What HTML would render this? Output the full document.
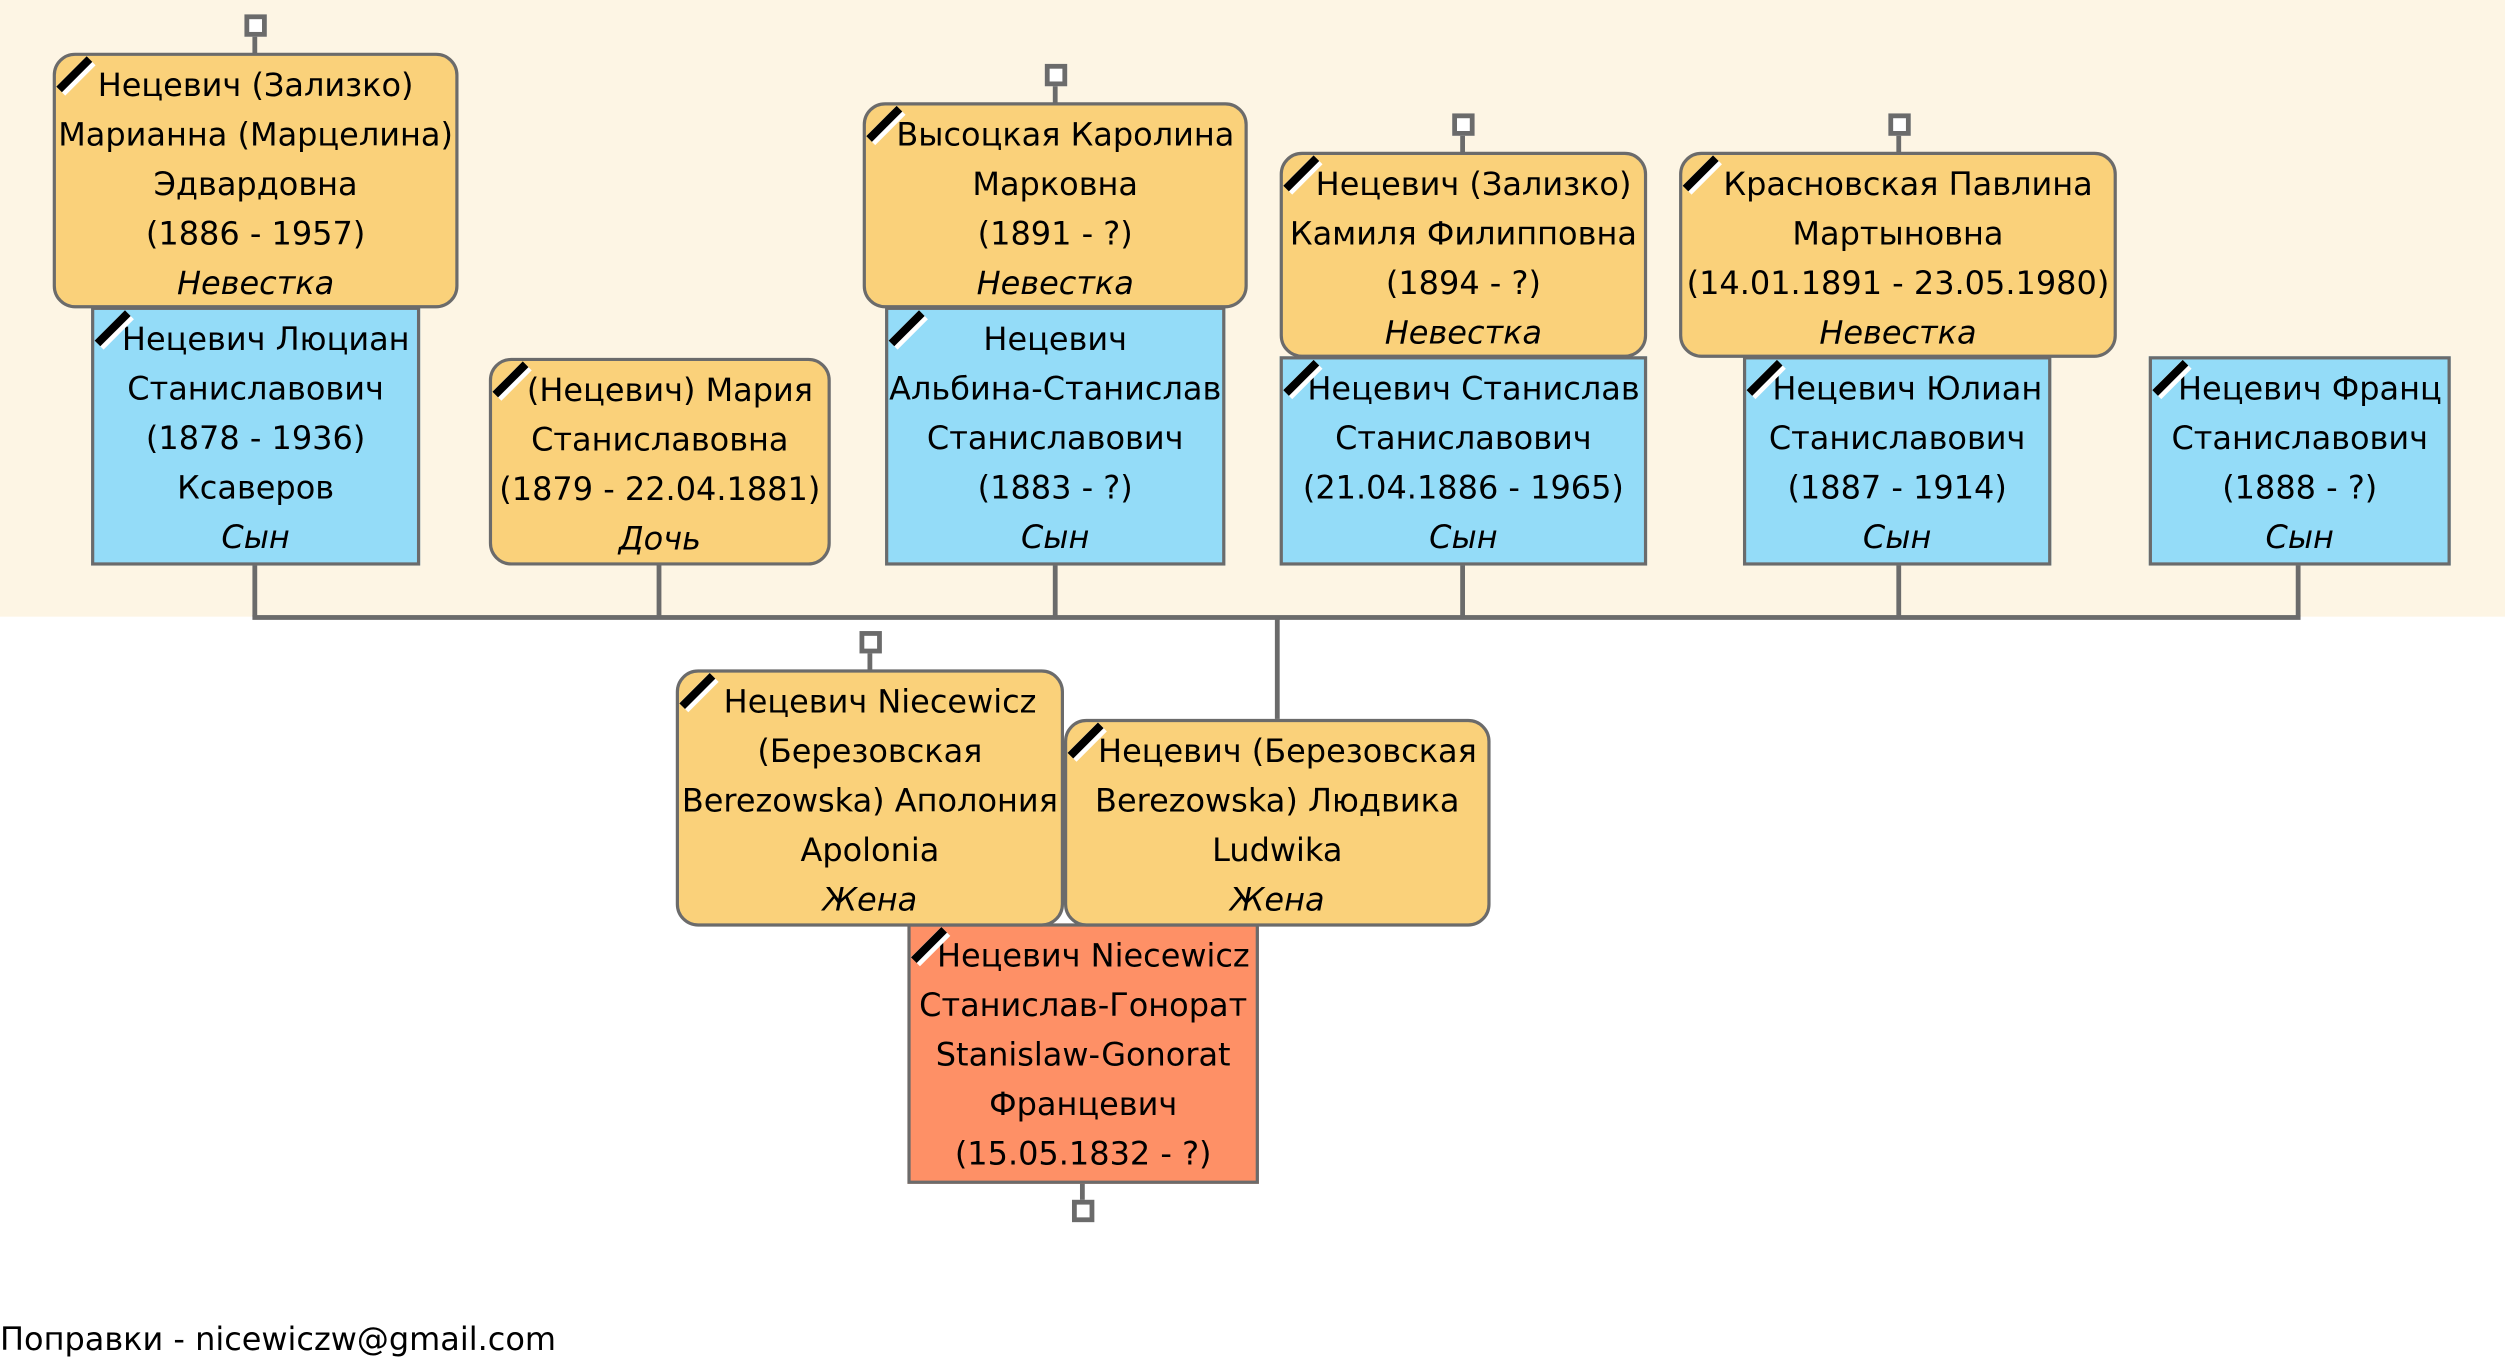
<!DOCTYPE html>
<html><head><meta charset="utf-8">
<style>
body{margin:0;width:2505px;height:1360px;overflow:hidden;background:#fff;}
#w{position:absolute;left:0;top:0;width:1568px;height:852px;transform:scale(1.5976);transform-origin:0 0;font-family:"DejaVu Sans","Liberation Sans",sans-serif;}
.b{position:absolute;box-sizing:border-box;border:2px solid #6b6b6b;text-align:center;font-size:20px;line-height:31px;padding-top:3px;color:#000;white-space:nowrap;overflow:visible;}
.o{background:#fad17a;border-radius:14px;}
.u{background:#94dcf8;}
.r{background:#fe9066;}
.b i{font-style:italic;}
.rb{position:absolute;left:0;top:0;width:30px;height:30px;}
.h{position:absolute;background:#6b6b6b;}
.sq{position:absolute;width:8px;height:8px;border:3px solid #6b6b6b;background:#fff;}
</style></head><body>
<div id="w">
<div style="position:absolute;left:0;top:0;width:1568px;height:386px;background:#fdf5e4"></div>
<div class="h" style="left:158px;top:385px;width:1282px;height:3px"></div>
<div class="h" style="left:158px;top:353px;width:3px;height:33px"></div>
<div class="h" style="left:411px;top:353px;width:3px;height:33px"></div>
<div class="h" style="left:659px;top:353px;width:3px;height:33px"></div>
<div class="h" style="left:914px;top:353px;width:3px;height:33px"></div>
<div class="h" style="left:1187px;top:353px;width:3px;height:33px"></div>
<div class="h" style="left:1437px;top:353px;width:3px;height:33px"></div>
<div class="h" style="left:798px;top:386px;width:3px;height:64px"></div>
<div class="h" style="left:158px;top:20px;width:3px;height:14px"></div><div class="sq" style="left:153px;top:9px"></div>
<div class="h" style="left:659px;top:51px;width:3px;height:14px"></div><div class="sq" style="left:654px;top:40px"></div>
<div class="h" style="left:914px;top:82px;width:3px;height:14px"></div><div class="sq" style="left:909px;top:71px"></div>
<div class="h" style="left:1187px;top:82px;width:3px;height:14px"></div><div class="sq" style="left:1182px;top:71px"></div>
<div class="h" style="left:543px;top:406px;width:3px;height:14px"></div><div class="sq" style="left:538px;top:395px"></div>
<div class="h" style="left:676px;top:739px;width:3px;height:14px"></div><div class="sq" style="left:671px;top:751px"></div>

<div class="b u" style="left:57px;top:192px;width:206px;height:162px">&nbsp;&nbsp;Нецевич Люциан<br>Станиславович<br>(1878 - 1936)<br>Ксаверов<br><i>Сын</i><svg class="rb"><line x1="3" y1="22" x2="22" y2="3" stroke="#fff" stroke-width="8"/><line x1="2" y1="21" x2="21" y2="2" stroke="#000" stroke-width="5"/></svg></div>
<div class="b o" style="left:33px;top:33px;width:254px;height:160px">Нецевич (Зализко)<br>Марианна (Марцелина)<br>Эдвардовна<br>(1886 - 1957)<br><i>Невестка</i><svg class="rb"><line x1="3" y1="22" x2="22" y2="3" stroke="#fff" stroke-width="8"/><line x1="2" y1="21" x2="21" y2="2" stroke="#000" stroke-width="5"/></svg></div>
<div class="b o" style="left:306px;top:224px;width:214px;height:130px">&nbsp;&nbsp;(Нецевич) Мария<br>Станиславовна<br>(1879 - 22.04.1881)<br><i>Дочь</i><svg class="rb"><line x1="3" y1="22" x2="22" y2="3" stroke="#fff" stroke-width="8"/><line x1="2" y1="21" x2="21" y2="2" stroke="#000" stroke-width="5"/></svg></div>
<div class="b u" style="left:554px;top:192px;width:213px;height:162px">Нецевич<br>Альбина-Станислав<br>Станиславович<br>(1883 - ?)<br><i>Сын</i><svg class="rb"><line x1="3" y1="22" x2="22" y2="3" stroke="#fff" stroke-width="8"/><line x1="2" y1="21" x2="21" y2="2" stroke="#000" stroke-width="5"/></svg></div>
<div class="b o" style="left:540px;top:64px;width:241px;height:129px">&nbsp;&nbsp;Высоцкая Каролина<br>Марковна<br>(1891 - ?)<br><i>Невестка</i><svg class="rb"><line x1="3" y1="22" x2="22" y2="3" stroke="#fff" stroke-width="8"/><line x1="2" y1="21" x2="21" y2="2" stroke="#000" stroke-width="5"/></svg></div>
<div class="b u" style="left:801px;top:223px;width:230px;height:131px">&nbsp;&nbsp;Нецевич Станислав<br>Станиславович<br>(21.04.1886 - 1965)<br><i>Сын</i><svg class="rb"><line x1="3" y1="22" x2="22" y2="3" stroke="#fff" stroke-width="8"/><line x1="2" y1="21" x2="21" y2="2" stroke="#000" stroke-width="5"/></svg></div>
<div class="b o" style="left:801px;top:95px;width:230px;height:129px">&nbsp;&nbsp;Нецевич (Зализко)<br>Камиля Филипповна<br>(1894 - ?)<br><i>Невестка</i><svg class="rb"><line x1="3" y1="22" x2="22" y2="3" stroke="#fff" stroke-width="8"/><line x1="2" y1="21" x2="21" y2="2" stroke="#000" stroke-width="5"/></svg></div>
<div class="b u" style="left:1091px;top:223px;width:193px;height:131px">&nbsp;&nbsp;Нецевич Юлиан<br>Станиславович<br>(1887 - 1914)<br><i>Сын</i><svg class="rb"><line x1="3" y1="22" x2="22" y2="3" stroke="#fff" stroke-width="8"/><line x1="2" y1="21" x2="21" y2="2" stroke="#000" stroke-width="5"/></svg></div>
<div class="b o" style="left:1051px;top:95px;width:274px;height:129px">&nbsp;&nbsp;Красновская Павлина<br>Мартыновна<br>(14.01.1891 - 23.05.1980)<br><i>Невестка</i><svg class="rb"><line x1="3" y1="22" x2="22" y2="3" stroke="#fff" stroke-width="8"/><line x1="2" y1="21" x2="21" y2="2" stroke="#000" stroke-width="5"/></svg></div>
<div class="b u" style="left:1345px;top:223px;width:189px;height:131px">&nbsp;&nbsp;Нецевич Франц<br>Станиславович<br>(1888 - ?)<br><i>Сын</i><svg class="rb"><line x1="3" y1="22" x2="22" y2="3" stroke="#fff" stroke-width="8"/><line x1="2" y1="21" x2="21" y2="2" stroke="#000" stroke-width="5"/></svg></div>

<div class="b r" style="left:568px;top:578px;width:220px;height:163px">&nbsp;&nbsp;Нецевич Niecewicz<br>Станислав-Гонорат<br>Stanislaw-Gonorat<br>Францевич<br>(15.05.1832 - ?)<svg class="rb"><line x1="3" y1="22" x2="22" y2="3" stroke="#fff" stroke-width="8"/><line x1="2" y1="21" x2="21" y2="2" stroke="#000" stroke-width="5"/></svg></div>
<div class="b o" style="left:423px;top:419px;width:243px;height:161px">&nbsp;&nbsp;Нецевич Niecewicz<br>(Березовская<br>Berezowska) Аполония<br>Apolonia<br><i>Жена</i><svg class="rb"><line x1="3" y1="22" x2="22" y2="3" stroke="#fff" stroke-width="8"/><line x1="2" y1="21" x2="21" y2="2" stroke="#000" stroke-width="5"/></svg></div>
<div class="b o" style="left:666px;top:450px;width:267px;height:130px">&nbsp;&nbsp;Нецевич (Березовская<br>Berezowska) Людвика<br>Ludwika<br><i>Жена</i><svg class="rb"><line x1="3" y1="22" x2="22" y2="3" stroke="#fff" stroke-width="8"/><line x1="2" y1="21" x2="21" y2="2" stroke="#000" stroke-width="5"/></svg></div>

<div style="position:absolute;left:0;top:824px;font-size:20px;line-height:28px;white-space:nowrap">Поправки - nicewiczw@gmail.com</div>
</div>
</body></html>
